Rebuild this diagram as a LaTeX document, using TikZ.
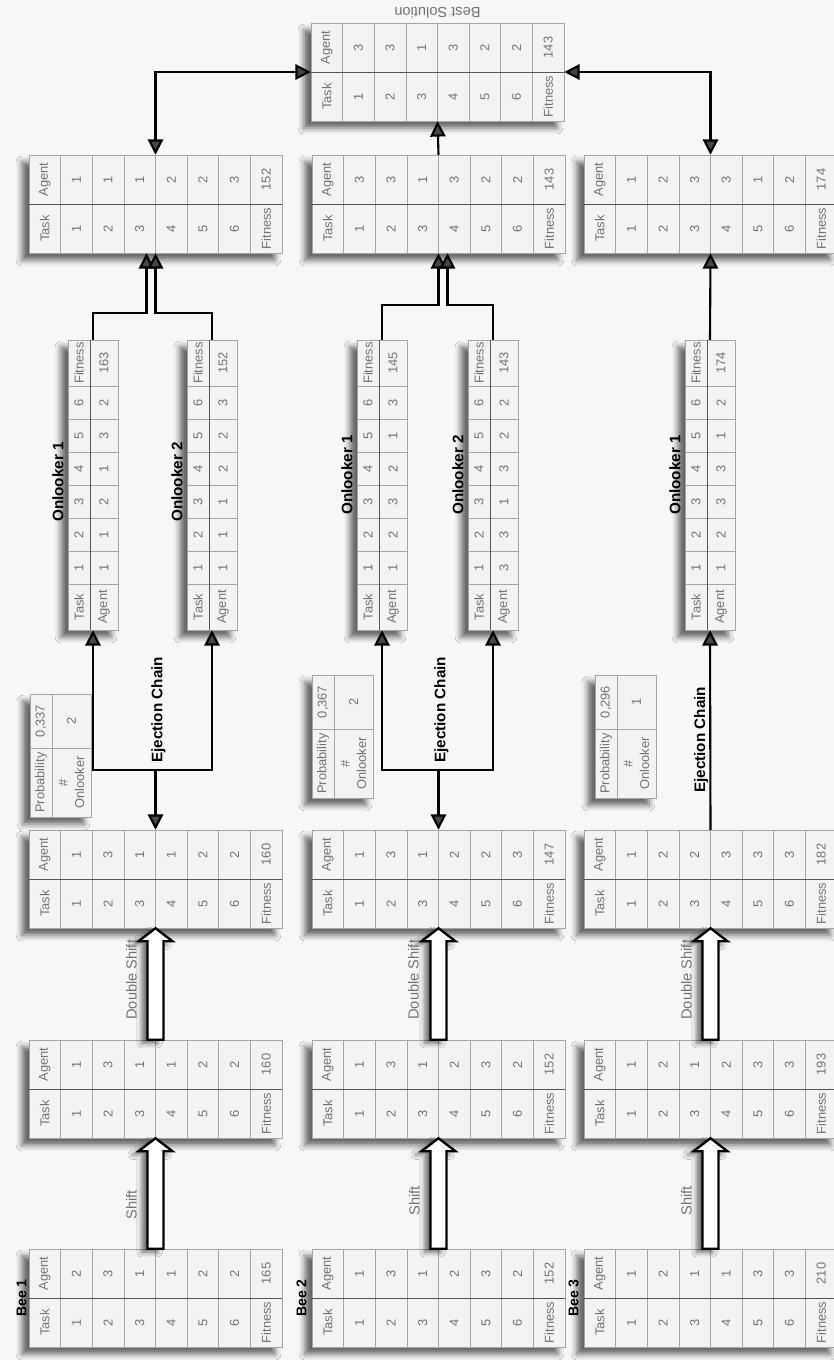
\documentclass[tikz,border=0pt]{standalone}
\usepackage{fontspec}
\setmainfont{Liberation Sans}
\usepackage{tikz}
\usetikzlibrary{arrows.meta,positioning,fit,calc,shadows.blur}
\definecolor{pagebg}{RGB}{247,247,247}
\definecolor{cellbg}{RGB}{243,243,243}
\definecolor{gridgray}{RGB}{165,165,165}
\definecolor{splitgray}{RGB}{85,85,85}
\definecolor{txtgray}{RGB}{115,115,115}

% solution table of a bee: name, left, top, agents, fitness
\newcommand{\soltab}[5]{%
  \coordinate (#1-nw) at (#2,#3);
  \coordinate (#1-se) at (#2+253,#3+98);
  \node[tblbox,fit=(#1-nw)(#1-se)] (#1) {};
  \foreach \i in {0,...,7}{
    \draw[cell] (#2+\i*31.625,#3) rectangle ++(31.625,49);
    \draw[cell] (#2+\i*31.625,#3+49) rectangle ++(31.625,49);
  }
  \draw[split] (#2,#3+49) -- ++(253,0);
  \node[txt] at (#2+15.8,#3+24.5) {Agent};
  \node[txt] at (#2+15.8,#3+73.5) {Task};
  \foreach \v [count=\k] in {#4}{
    \node[txt] at (#2+\k*31.625+15.8,#3+24.5) {\v};
    \node[txt] at (#2+\k*31.625+15.8,#3+73.5) {\k};
  }
  \node[txt] at (#2+237.2,#3+24.5) {#5};
  \node[txt] at (#2+237.2,#3+73.5) {Fitness};
}

% onlooker table: name, left, top, agents, fitness
\newcommand{\looktab}[5]{%
  \coordinate (#1-nw) at (#2,#3);
  \coordinate (#1-se) at (#2+50,#3+290);
  \node[tblbox,fit=(#1-nw)(#1-se)] (#1) {};
  \draw[cell] (#2,#3) rectangle ++(22,46);
  \draw[cell] (#2+22,#3) rectangle ++(28,46);
  \node[txt] at (#2+11,#3+23) {Fitness};
  \node[txt] at (#2+36,#3+23) {#5};
  \foreach \v [count=\k] in {#4}{
    \draw[cell] (#2,#3+244-\k*33) rectangle ++(22,33);
    \draw[cell] (#2+22,#3+244-\k*33) rectangle ++(28,33);
    \node[txt] at (#2+11,#3+260.5-\k*33) {\k};
    \node[txt] at (#2+36,#3+260.5-\k*33) {\v};
  }
  \draw[cell] (#2,#3+244) rectangle ++(22,46);
  \draw[cell] (#2+22,#3+244) rectangle ++(28,46);
  \node[txt] at (#2+11,#3+267) {Task};
  \node[txt] at (#2+36,#3+267) {Agent};
  \draw[split] (#2+22,#3) -- ++(0,290);
}

% probability table: name, left, top, probability, onlookers
\newcommand{\probtab}[5]{%
  \coordinate (#1-nw) at (#2,#3);
  \coordinate (#1-se) at (#2+61,#3+123);
  \node[tblbox,fit=(#1-nw)(#1-se)] (#1) {};
  \draw[cell] (#2,#3) rectangle ++(22,54);
  \draw[cell] (#2+22,#3) rectangle ++(39,54);
  \draw[cell] (#2,#3+54) rectangle ++(22,69);
  \draw[cell] (#2+22,#3+54) rectangle ++(39,69);
  \node[txt] at (#2+11,#3+27) {#4};
  \node[txt] at (#2+41.5,#3+27) {#5};
  \node[txt] at (#2+11,#3+88.5) {Probability};
  \node[txt,align=center] at (#2+41.5,#3+88.5) {\#\\Onlooker};
}

% hollow block arrow between two tables
\newcommand{\fatarrow}[2]{%
  \draw[fat] ($(#1.north)+(-8,0)$) -- ($(#2.south)+(-8,13)$)
    -- ($(#2.south)+(-17,13)$) -- (#2.south) -- ($(#2.south)+(17,13)$)
    -- ($(#2.south)+(8,13)$) -- ($(#1.north)+(8,0)$) -- cycle;
}

\begin{document}
\begin{tikzpicture}[
    x=0.03cm, y=-0.03cm,
    tblbox/.style={draw=gridgray,fill=cellbg,inner sep=0pt,
                   blur shadow={shadow xshift=-6pt,shadow yshift=-6pt,
                                shadow blur radius=5pt,shadow opacity=60}},
    cell/.style={draw=gridgray,fill=cellbg,line width=0.6pt},
    split/.style={draw=splitgray,line width=0.8pt},
    txt/.style={rotate=90,text=txtgray,inner sep=0pt,
                font=\fontsize{11}{14}\selectfont},
    lbl/.style={rotate=90,inner sep=0pt,
                font=\bfseries\fontsize{13}{15}\selectfont},
    beelbl/.style={lbl,font=\bfseries\fontsize{12}{14}\selectfont},
    note/.style={rotate=90,text=txtgray,inner sep=0pt,
                 font=\fontsize{12.5}{15}\selectfont},
    arr/.style={-{Triangle[length=0.46cm,width=0.46cm]},line width=1.8pt},
    dblarr/.style={{Triangle[length=0.46cm,width=0.46cm]}-{Triangle[length=0.46cm,width=0.46cm]},
                   line width=1.8pt},
    fat/.style={draw,fill=white,line width=2pt,
                blur shadow={shadow xshift=-5pt,shadow yshift=-3pt,
                             shadow blur radius=4pt,shadow opacity=55}},
  ]
  \useasboundingbox (0,0) rectangle (834,1360);
  \fill[pagebg] (0,0) rectangle (834,1360);

  % Bee 1
  \soltab{b1t0}{29}{1249}{2,3,1,1,2,2}{165}
  \soltab{b1t1}{29}{1040}{1,3,1,1,2,2}{160}
  \soltab{b1t2}{29}{830}{1,3,1,1,2,2}{160}
  \probtab{b1p}{30}{694}{0,337}{2}
  \looktab{b1o1}{68}{340}{1,1,2,1,3,2}{163}
  \looktab{b1o2}{187}{340}{1,1,1,2,2,3}{152}
  \soltab{b1t3}{29}{155}{1,1,1,2,2,3}{152}

  % Bee 2
  \soltab{b2t0}{312}{1249}{1,3,1,2,3,2}{152}
  \soltab{b2t1}{312}{1040}{1,3,1,2,3,2}{152}
  \soltab{b2t2}{312}{830}{1,3,1,2,2,3}{147}
  \probtab{b2p}{312}{675}{0,367}{2}
  \looktab{b2o1}{357}{340}{1,2,3,2,1,3}{145}
  \looktab{b2o2}{468}{340}{3,3,1,3,2,2}{143}
  \soltab{b2t3}{312}{155}{3,3,1,3,2,2}{143}

  % Bee 3
  \soltab{b3t0}{584}{1249}{1,2,1,1,3,3}{210}
  \soltab{b3t1}{584}{1040}{1,2,1,2,3,3}{193}
  \soltab{b3t2}{584}{830}{1,2,2,3,3,3}{182}
  \probtab{b3p}{595}{675}{0,296}{1}
  \looktab{b3o1}{685}{340}{1,2,3,3,1,2}{174}
  \soltab{b3t3}{584}{155}{1,2,3,3,1,2}{174}

  % best solution
  \soltab{best}{311}{23}{3,3,1,3,2,2}{143}
  \node[note,rotate=90,anchor=north] (bestlbl) at ($(best.north)+(0,-4)$) {Best Solution};

  % labels
  \node[beelbl,anchor=south] (bee1) at ($(b1t0.west)+(-2,0)$) {Bee 1};
  \node[beelbl,anchor=south] (bee2) at ($(b2t0.west)+(-5,0)$) {Bee 2};
  \node[beelbl,anchor=south] (bee3) at ($(b3t0.west)+(-5,0)$) {Bee 3};
  \node[lbl,anchor=south] (l11) at ($(b1o1.west)+(-4,-3)$) {Onlooker 1};
  \node[lbl,anchor=south] (l12) at ($(b1o2.west)+(-4,-3)$) {Onlooker 2};
  \node[lbl,anchor=south] (l21) at ($(b2o1.west)+(-4,-10)$) {Onlooker 1};
  \node[lbl,anchor=south] (l22) at ($(b2o2.west)+(-4,-10)$) {Onlooker 2};
  \node[lbl,anchor=south] (l31) at ($(b3o1.west)+(-4,-10)$) {Onlooker 1};

  % shift and double shift
  \fatarrow{b1t0}{b1t1} \fatarrow{b1t1}{b1t2}
  \fatarrow{b2t0}{b2t1} \fatarrow{b2t1}{b2t2}
  \fatarrow{b3t0}{b3t1} \fatarrow{b3t1}{b3t2}
  \node[note] (s1) at ($(b1t0.north)+(-24,-44)$) {Shift};
  \node[note] (s2) at ($(b2t0.north)+(-24,-48)$) {Shift};
  \node[note] (s3) at ($(b3t0.north)+(-24,-48)$) {Shift};
  \node[note] (d1) at ($(b1t1.north)+(-24,-60)$) {Double Shift};
  \node[note] (d2) at ($(b2t1.north)+(-25,-60)$) {Double Shift};
  \node[note] (d3) at ($(b3t1.north)+(-24,-60)$) {Double Shift};

  % ejection chain
  \coordinate (b1j) at ($(b1t2.north)+(0,-60)$);
  \coordinate (b2j) at ($(b2t2.north)+(0,-60)$);
  \draw[arr] (b1j) -- (b1t2.north);
  \draw[arr] (b1j) -| (b1o1.south);
  \draw[arr] (b1j) -| (b1o2.south);
  \draw[arr] (b2j) -- (b2t2.north);
  \draw[arr] (b2j) -| (b2o1.south);
  \draw[arr] (b2j) -| (b2o2.south);
  \draw[arr] (b3t2.north) -- (b3o1.south);
  \node[lbl] (e1) at ($(b1j)+(3,-60)$) {Ejection Chain};
  \node[lbl] (e2) at ($(b2j)+(3,-60)$) {Ejection Chain};
  \node[lbl,anchor=south] (e3) at ($(b3t2.north)+(-2,-90)$) {Ejection Chain};

  % onlookers to the new solutions
  \draw[arr] (b1o1.north) |- ($(b1t3.south)+(-9,60)$) -- ($(b1t3.south)+(-9,0)$);
  \draw[arr] (b1o2.north) |- ($(b1t3.south)+(0,60)$) -- (b1t3.south);
  \draw[arr] (b2o1.north) |- ($(b2t3.south)+(0,52)$) -- (b2t3.south);
  \draw[arr] (b2o2.north) |- ($(b2t3.south)+(9,52)$) -- ($(b2t3.south)+(9,0)$);
  \draw[arr] (b3o1.north) -- (b3t3.south);

  % best solution
  \draw[dblarr] (b1t3.north) |- (best.west);
  \draw[dblarr] (b3t3.north) |- (best.east);
  \draw[arr] (b2t3.north) -- (best.south);
\end{tikzpicture}
\end{document}
